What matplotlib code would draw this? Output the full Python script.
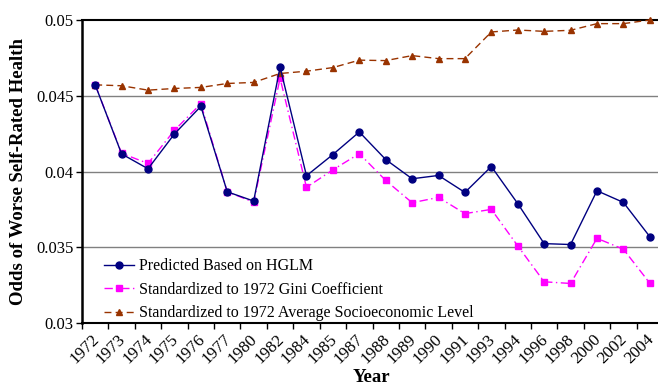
import matplotlib
matplotlib.use("Agg")
import matplotlib.pyplot as plt
from matplotlib.ticker import FixedLocator, NullFormatter
import matplotlib.transforms as mtransforms

plt.rcParams['font.family'] = ['Liberation Serif', 'DejaVu Serif']

years = ["1972", "1973", "1974", "1975", "1976", "1977", "1980", "1982", "1984", "1985",
         "1987", "1988", "1989", "1990", "1991", "1993", "1994", "1996", "1998", "2000",
         "2002", "2004"]

predicted = [0.04572, 0.04116, 0.04018, 0.04248, 0.04430, 0.03866, 0.03805, 0.04689,
             0.03972, 0.04112, 0.04261, 0.04079, 0.03952, 0.03974, 0.03862, 0.04033,
             0.03788, 0.03524, 0.03518, 0.03873, 0.03796, 0.03570]

gini = [0.04572, 0.04120, 0.04053, 0.04272, 0.04447, 0.03866, 0.03798, 0.04616,
        0.03895, 0.04011, 0.04118, 0.03941, 0.03794, 0.03829, 0.03722, 0.03750,
        0.03509, 0.03272, 0.03261, 0.03559, 0.03487, 0.03263]

ses = [0.04572, 0.04566, 0.04537, 0.04548, 0.04555, 0.04581, 0.04588, 0.04647,
       0.04662, 0.04686, 0.04735, 0.04732, 0.04765, 0.04745, 0.04745, 0.04921,
       0.04934, 0.04925, 0.04932, 0.04976, 0.04976, 0.05000]

labels = ["Predicted Based on HGLM",
          "Standardized to 1972 Gini Coefficient",
          "Standardized to 1972 Average Socioeconomic Level"]

yticks = [0.03, 0.035, 0.04, 0.045, 0.05]
ytick_labels = ["0.03", "0.035", "0.04", "0.045", "0.05"]

fig = plt.figure(figsize=(6.58, 3.86), dpi=100)
ax = fig.add_axes([82/658, 63/386, 581/658, 303/386])

x = list(range(len(years)))

ax.plot(x, predicted, color='#000080', lw=1.0, ls='-', marker='o', ms=5,
        mfc='#000080', mec='#000080', label=labels[0], zorder=4, clip_on=False)
ax.plot(x, gini, color='#FF00FF', lw=1.0, ls=(0, (6, 2.5, 1, 2.5)), marker='s', ms=4.3,
        mfc='#FF00FF', mec='#FF00FF', label=labels[1], zorder=3, clip_on=False)
ax.plot(x, ses, color='#993300', lw=1.0, ls=(0, (5, 3)), marker='^', ms=5,
        mfc='#993300', mec='#993300', label=labels[2], zorder=3, clip_on=False)

ax.set_xlim(-0.5, len(years) - 0.5)
ax.set_ylim(0.03, 0.05)

ax.set_yticks(yticks)
ax.set_yticklabels(ytick_labels, fontsize=12)
for yv in yticks[1:-1]:
    ax.axhline(yv, color='#808080', lw=1.0, zorder=1)

ax.set_xticks(x)
ax.set_xticklabels(years, rotation=45, ha='right', va='top', fontsize=12.3,
                   rotation_mode='anchor')
ax.xaxis.set_minor_locator(FixedLocator([i - 0.5 for i in range(len(years) + 1)]))
ax.xaxis.set_minor_formatter(NullFormatter())
ax.tick_params(axis='x', which='major', length=0, pad=6)
ax.tick_params(axis='x', which='minor', length=4, width=1, direction='out')
ax.tick_params(axis='y', length=4, width=1, direction='out', pad=2)
for lab in ax.get_xticklabels():
    lab.set_transform(lab.get_transform() + mtransforms.ScaledTranslation(-4/100, 0, fig.dpi_scale_trans))

for s in ['left', 'bottom', 'top']:
    ax.spines[s].set_color('black')
ax.spines['left'].set_linewidth(1.8)
ax.spines['bottom'].set_linewidth(1.5)
ax.spines['top'].set_linewidth(1.5)
ax.spines['right'].set_visible(False)

ax.set_ylabel("Odds of Worse Self-Rated Health", fontsize=13.5, fontweight='bold')
ax.set_xlabel("Year", fontsize=13.5, fontweight='bold')
ax.yaxis.set_label_coords(-0.094, 0.5)
ax.xaxis.set_label_coords((371 - 82) / 581, -0.152)

leg = ax.legend(loc='upper left', bbox_to_anchor=(0.038, 0.214), frameon=False,
                fontsize=11.5, handlelength=1.9, handletextpad=0.3, labelspacing=0.48,
                borderaxespad=0, borderpad=0)

fig.savefig("out.png", dpi=100)
